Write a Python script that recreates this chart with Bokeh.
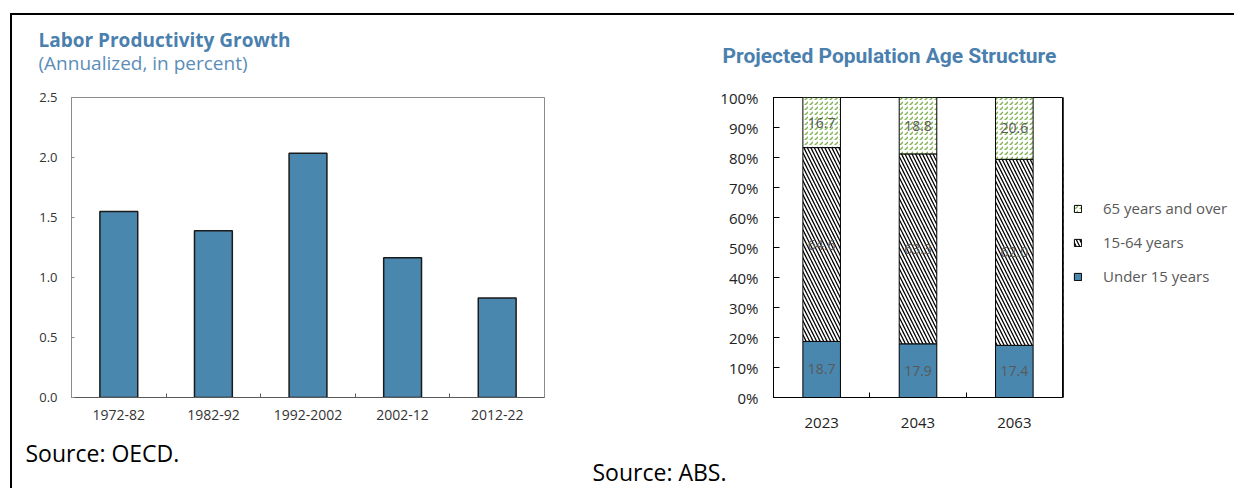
import numpy as np
from bokeh.plotting import figure
from bokeh.layouts import row
from bokeh.models import (ColumnDataSource, Range1d, FixedTicker, LabelSet,
                          Legend, LegendItem, Title)
from bokeh.core.properties import value
from bokeh.embed import file_html
from bokeh.resources import INLINE

# ---------------- data ----------------
periods = ["1972-82", "1982-92", "1992-2002", "2002-12", "2012-22"]
productivity = [1.55, 1.39, 2.035, 1.165, 0.83]

years = ["2023", "2043", "2063"]
under15 = [18.7, 17.9, 17.4]
age15_64 = [64.6, 63.3, 62.0]
age65 = [16.7, 18.8, 20.6]
series_names = ["Under 15 years", "15-64 years", "65 years and over"]

y_ticks_left = [0.0, 0.5, 1.0, 1.5, 2.0, 2.5]
y_ticks_right = [0, 10, 20, 30, 40, 50, 60, 70, 80, 90, 100]

FONT = "Open Sans"
BLUE = "#4A87AE"
TITLE_BLUE = "#4A7FAE"
H = 473

STYLE_U15 = dict(fill_color=BLUE, line_color="black", line_width=1)
STYLE_MID = dict(fill_color="white", hatch_pattern="left_diagonal_line", hatch_color="black",
                 hatch_scale=7, hatch_weight=1.25, line_color="black", line_width=1)
STYLE_OLD = dict(fill_color="white", hatch_pattern="right_diagonal_dash", hatch_color="#7FB552",
                 hatch_scale=5, hatch_weight=1.5, line_color="black", line_width=1)


def spacer(px):
    return Title(text=" ", text_font_size="1px", standoff=px)


# ---------------- left chart ----------------
p1 = figure(width=576, height=H, output_backend="svg", toolbar_location=None,
            x_range=Range1d(-0.5, len(periods) - 0.5), y_range=Range1d(0, 2.5),
            min_border_left=59, min_border_right=44, min_border_top=82, min_border_bottom=91)
p1.xgrid.visible = False
p1.ygrid.visible = False
p1.outline_line_color = "#8c8c8c"

src1 = ColumnDataSource(dict(x=list(range(len(periods))), top=productivity))
p1.vbar(x="x", top="top", width=0.4, source=src1, fill_color=BLUE,
        line_color="#1a1a1a", line_width=1.5)

xa = p1.xaxis[0]
xa.ticker = FixedTicker(ticks=list(range(len(periods))),
                        minor_ticks=[i + 0.5 for i in range(len(periods) - 1)])
xa.major_label_overrides = {i: lab for i, lab in enumerate(periods)}
xa.major_tick_in = 0
xa.major_tick_out = 0
xa.minor_tick_in = 4
xa.minor_tick_out = 0
xa.minor_tick_line_color = "#595959"
xa.axis_line_color = "#595959"
xa.major_label_text_font = FONT
xa.major_label_text_font_size = "14px"
xa.major_label_text_color = "#333333"
xa.major_label_standoff = 12

ya = p1.yaxis[0]
ya.ticker = FixedTicker(ticks=y_ticks_left)
ya.major_label_overrides = {t: f"{t:.1f}" for t in y_ticks_left}
ya.major_tick_in = 3
ya.major_tick_out = 0
ya.minor_tick_line_color = None
ya.axis_line_color = "#8c8c8c"
ya.major_tick_line_color = "#8c8c8c"
ya.major_label_text_font = FONT
ya.major_label_text_font_size = "13px"
ya.major_label_text_color = "#333333"
ya.major_label_standoff = 14

p1.add_layout(spacer(23), "above")
p1.add_layout(Title(text="(Annualized, in percent)", align="left", offset=-33,
                    text_font=FONT, text_font_size="19px", text_font_style="normal",
                    text_color="#5B8DB8", standoff=-9), "above")
p1.add_layout(Title(text="Labor Productivity Growth", align="left", offset=-33,
                    text_font=FONT, text_font_size="19px", text_font_style="bold",
                    text_color=TITLE_BLUE, standoff=0), "above")
p1.add_layout(Title(text="Source: OECD.", align="left", offset=-46,
                    text_font=FONT, text_font_size="23px", text_font_style="normal",
                    text_color="black", standoff=24), "below")

# ---------------- right chart ----------------
p2 = figure(width=475, height=H, output_backend="svg", toolbar_location=None,
            x_range=Range1d(-0.5, len(years) - 0.5), y_range=Range1d(0, 100),
            min_border_left=185, min_border_right=1, min_border_top=79, min_border_bottom=90)
p2.xgrid.visible = False
p2.ygrid.visible = False
p2.outline_line_color = "black"

xs = np.arange(len(years))
b0 = np.zeros(len(years))
t0 = b0 + np.array(under15)
t1 = t0 + np.array(age15_64)
t2 = t1 + np.array(age65)
src2 = ColumnDataSource(dict(x=xs, b0=b0, t0=t0, t1=t1, t2=t2))

p2.vbar(x="x", bottom="b0", top="t0", width=0.39, source=src2, **STYLE_U15)
p2.vbar(x="x", bottom="t0", top="t1", width=0.39, source=src2, **STYLE_MID)
p2.vbar(x="x", bottom="t1", top="t2", width=0.39, source=src2, **STYLE_OLD)

lab_src = ColumnDataSource(dict(
    x=np.concatenate([xs, xs, xs]),
    y=np.concatenate([(b0 + t0) / 2, (t0 + t1) / 2, (t1 + t2) / 2]),
    text=[f"{v:.1f}" for v in under15 + age15_64 + age65]))
p2.add_layout(LabelSet(x="x", y="y", text="text", source=lab_src,
                       text_font=value(FONT), text_font_size="14px", text_color="#595959",
                       text_align="center", text_baseline="middle"))

xb = p2.xaxis[0]
xb.ticker = FixedTicker(ticks=list(range(len(years))),
                        minor_ticks=[i + 0.5 for i in range(len(years) - 1)])
xb.major_label_overrides = {i: y for i, y in enumerate(years)}
xb.major_tick_in = 0
xb.major_tick_out = 0
xb.minor_tick_in = 5
xb.minor_tick_out = 0
xb.minor_tick_line_color = "black"
xb.axis_line_color = "black"
xb.major_label_text_font = FONT
xb.major_label_text_font_size = "15px"
xb.major_label_text_color = "#222222"
xb.major_label_standoff = 20

yb = p2.yaxis[0]
yb.ticker = FixedTicker(ticks=y_ticks_right)
yb.major_label_overrides = {t: f"{t}%" for t in y_ticks_right}
yb.major_tick_in = 6
yb.major_tick_out = 0
yb.minor_tick_line_color = None
yb.axis_line_color = "black"
yb.major_label_text_font = FONT
yb.major_label_text_font_size = "15px"
yb.major_label_text_color = "#222222"
yb.major_label_standoff = 15

p2.add_layout(spacer(27), "above")
p2.add_layout(Title(text="Projected Population Age Structure", align="left", offset=-51,
                    text_font="Roboto", text_font_size="21px",
                    text_font_style="bold", text_color=TITLE_BLUE, standoff=0), "above")
p2.add_layout(spacer(28), "below")
p2.add_layout(Title(text="Source: ABS.", align="left", offset=-181, vertical_align="top",
                    text_font=FONT, text_font_size="23px", text_font_style="normal",
                    text_color="black", standoff=-12), "below")

# ---------------- legend panel (proxy glyphs kept outside its view) ----------------
p3 = figure(width=171, height=H, output_backend="svg", toolbar_location=None,
            x_axis_location=None, y_axis_location=None,
            x_range=Range1d(100, 101), y_range=Range1d(0, 100),
            min_border=0, min_border_left=0, min_border_right=0,
            min_border_top=0, min_border_bottom=0)
p3.xgrid.visible = False
p3.ygrid.visible = False
p3.outline_line_color = None
g_u15 = p3.vbar(x="x", bottom="b0", top="t0", width=0.39, source=src2, **STYLE_U15)
g_mid = p3.vbar(x="x", bottom="t0", top="t1", width=0.39, source=src2, **STYLE_MID)
g_old = p3.vbar(x="x", bottom="t1", top="t2", width=0.39, source=src2, **STYLE_OLD)
legend = Legend(items=[LegendItem(label=series_names[2], renderers=[g_old]),
                       LegendItem(label=series_names[1], renderers=[g_mid]),
                       LegendItem(label=series_names[0], renderers=[g_u15])],
                location=(10, 111), glyph_width=9, glyph_height=9,
                label_standoff=21, spacing=14, label_height=20,
                label_text_font=FONT, label_text_font_size="15px",
                label_text_color="#595959", border_line_color=None,
                background_fill_alpha=0, padding=10, margin=0)
p3.add_layout(legend, "center")

layout = row(p1, p2, p3, margin=(13, 0, 0, 10),
             styles={"border-top": "2px solid black", "border-left": "2px solid black"})
open("out.html", "w").write(file_html(layout, INLINE))
